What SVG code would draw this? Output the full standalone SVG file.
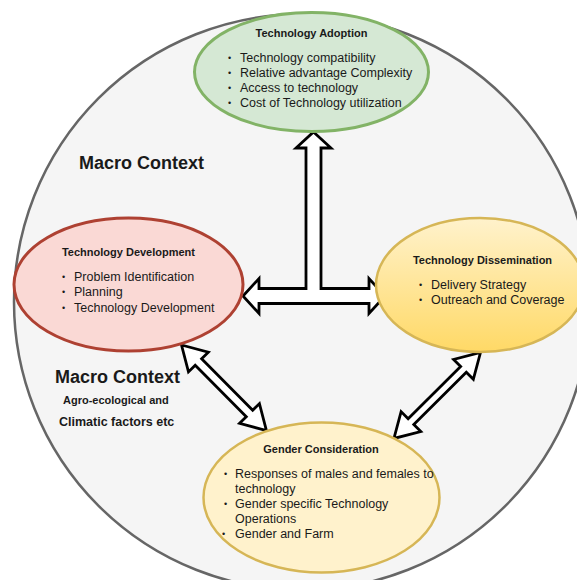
<svg xmlns="http://www.w3.org/2000/svg" width="577" height="580" viewBox="0 0 577 580">
<defs>
<linearGradient id="gDis" x1="0" y1="0" x2="0" y2="1">
<stop offset="0" stop-color="#fff2cc"/>
<stop offset="1" stop-color="#ffd966"/>
</linearGradient>
<style>
text{font-family:"Liberation Sans",Arial,sans-serif;fill:#1a1a1a}
.t{font-size:11px;font-weight:bold;text-anchor:middle}
.b{font-size:12.5px}
.d{font-size:9px}
.m{font-size:18px;font-weight:bold}
.arrow{fill:#ffffff;stroke:#000000;stroke-width:2.8;stroke-linejoin:miter}
</style>
</defs>
<rect width="577" height="580" fill="#ffffff"/>
<g id="macro">
<circle cx="302" cy="302" r="288" fill="#f5f5f5" stroke="#666666" stroke-width="2.5"/>
<text class="m" x="79" y="169">Macro Context</text>
<text class="m" x="55" y="383">Macro Context</text>
<text x="63" y="404" style="font-size:11px;font-weight:bold">Agro-ecological and</text>
<text x="59" y="426" style="font-size:12.5px;font-weight:bold">Climatic factors etc</text>
</g>
<g id="connectors">
<path class="arrow" d="M313.5,132 L331,148 L321,148 L321,288.5 L369,288.5 L369,278.5 L385,296 L369,313.5 L369,303.5 L259,303.5 L259,313.5 L243,296 L259,278.5 L259,288.5 L306,288.5 L306,148 L296,148 Z"/>
<path class="arrow" transform="translate(181.5,345) rotate(45.2)" d="M0,0 L24,-14 L24,-4.5 L96.5,-4.5 L96.5,-14 L120.5,0 L96.5,14 L96.5,4.5 L24,4.5 L24,14 Z"/>
<path class="arrow" transform="translate(480.5,352.5) rotate(135.2)" d="M0,0 L24,-14 L24,-4 L98,-4 L98,-14 L122,0 L98,14 L98,4 L24,4 L24,14 Z"/>
</g>
<g id="adoption">
<ellipse cx="311.5" cy="72" rx="117" ry="59.5" fill="#d5e8d4" stroke="#82b366" stroke-width="3"/>
<text class="t" x="311.5" y="37">Technology Adoption</text>
<text class="d" x="228" y="61">•</text><text class="b" x="240" y="62">Technology compatibility</text>
<text class="d" x="228" y="76">•</text><text class="b" x="240" y="77">Relative advantage Complexity</text>
<text class="d" x="228" y="91">•</text><text class="b" x="240" y="92">Access to technology</text>
<text class="d" x="228" y="106">•</text><text class="b" x="240" y="107">Cost of Technology utilization</text>
</g>
<g id="development">
<ellipse cx="128.5" cy="284.5" rx="114.5" ry="66.5" fill="#fad9d5" stroke="#ae4132" stroke-width="3"/>
<text class="t" x="128.5" y="256">Technology Development</text>
<text class="d" x="62" y="280">•</text><text class="b" x="74" y="281">Problem Identification</text>
<text class="d" x="62" y="295">•</text><text class="b" x="74" y="296">Planning</text>
<text class="d" x="62" y="311">•</text><text class="b" x="74" y="312">Technology Development</text>
</g>
<g id="dissemination">
<ellipse cx="480" cy="285" rx="104" ry="67" fill="url(#gDis)" stroke="#d6b656" stroke-width="2.5"/>
<text class="t" x="482.5" y="264">Technology Dissemination</text>
<text class="d" x="419" y="288">•</text><text class="b" x="431" y="289">Delivery Strategy</text>
<text class="d" x="419" y="303">•</text><text class="b" x="431" y="304">Outreach and Coverage</text>
</g>
<g id="gender">
<ellipse cx="321.5" cy="497.5" rx="118" ry="75" fill="#fff2cc" stroke="#d6b656" stroke-width="2.5"/>
<text class="t" x="321" y="453">Gender Consideration</text>
<text class="d" x="224" y="477">•</text><text class="b" x="235" y="478">Responses of males and females to</text>
<text class="b" x="235" y="493">technology</text>
<text class="d" x="224" y="507">•</text><text class="b" x="235" y="508">Gender specific Technology</text>
<text class="b" x="235" y="523">Operations</text>
<text class="d" x="222" y="537">•</text><text class="b" x="235" y="538">Gender and Farm</text>
</g>
</svg>
